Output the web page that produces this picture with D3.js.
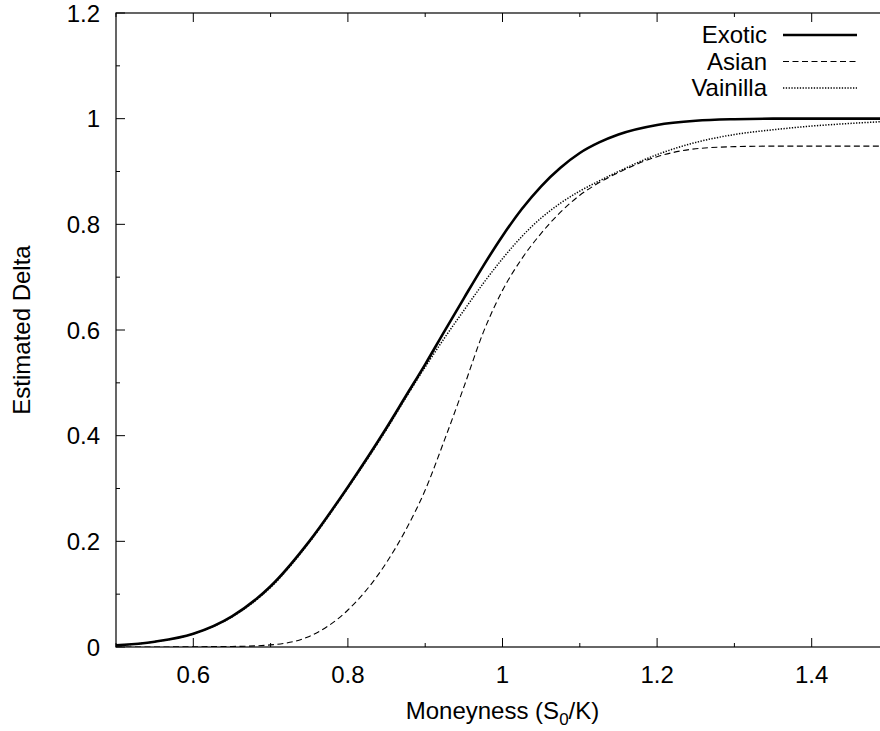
<!DOCTYPE html>
<html>
<head>
<meta charset="utf-8">
<script src="https://cdn.jsdelivr.net/npm/d3@7"></script>
<style>
    body { margin: 0; background: #fff; }
    svg text { font-family: "Liberation Sans", Arial, sans-serif; fill: #000; }
</style>
</head>
<body>
<div id="CHART"></div>
<script>
// moneyness grid (finer in the middle where the curves bend)
const moneyness = [0.50, 0.55, 0.60, 0.65, 0.70, 0.75, 0.80, 0.85, 0.875, 0.90, 0.925, 0.95, 0.975,
                   1.00, 1.025, 1.05, 1.075, 1.10, 1.125, 1.15, 1.20, 1.25, 1.30, 1.35, 1.40, 1.45, 1.50];
const exotic   = [0.003, 0.010, 0.025, 0.058, 0.115, 0.200, 0.303, 0.415, 0.475, 0.535, 0.598, 0.660, 0.721,
                  0.778, 0.829, 0.872, 0.907, 0.935, 0.955, 0.970, 0.988, 0.996, 0.999, 1.000, 1.000, 1.000, 1.000];
const asian    = [0.000, 0.000, 0.0005, 0.001, 0.004, 0.020, 0.070, 0.160, 0.222, 0.297, 0.392, 0.492, 0.595,
                  0.675, 0.735, 0.783, 0.823, 0.855, 0.879, 0.898, 0.928, 0.943, 0.947, 0.948, 0.948, 0.948, 0.948];
const vainilla = [0.003, 0.010, 0.025, 0.057, 0.113, 0.198, 0.301, 0.412, 0.472, 0.530, 0.585, 0.637, 0.688,
                  0.735, 0.777, 0.812, 0.840, 0.863, 0.882, 0.900, 0.932, 0.955, 0.970, 0.979, 0.986, 0.991, 0.995];

const seriesNames = ["Exotic", "Asian", "Vainilla"];
const xMajor = [0.6, 0.8, 1.0, 1.2, 1.4];
const xMinor = [0.5, 0.7, 0.9, 1.1, 1.3, 1.5];
const yMajor = [0, 0.2, 0.4, 0.6, 0.8, 1.0, 1.2];
const yMinor = [0.1, 0.3, 0.5, 0.7, 0.9, 1.1];

const W = 880, H = 731;
const plot = {"x0": 116, "y0": 13, "x1": 889, "y1": 647};

const svg = d3.select("#CHART").append("svg")
    .attr("width", W).attr("height", H);

const x = d3.scaleLinear().domain([0.5, 1.5]).range([plot.x0, plot.x1]);
const y = d3.scaleLinear().domain([0, 1.2]).range([plot.y1, plot.y0]);

const major = 9, minor = 4;
const fz = 24;

// frame
svg.append("rect")
    .attr("x", plot.x0).attr("y", plot.y0)
    .attr("width", plot.x1 - plot.x0).attr("height", plot.y1 - plot.y0)
    .attr("fill", "none").attr("stroke", "#000").attr("stroke-width", 1.2);

// ticks on all four sides (mirrored)
function xTicks(vals, len) {
    vals.forEach(v => {
        svg.append("line").attr("x1", x(v)).attr("x2", x(v))
            .attr("y1", plot.y1).attr("y2", plot.y1 - len)
            .attr("stroke", "#000").attr("stroke-width", 1);
        svg.append("line").attr("x1", x(v)).attr("x2", x(v))
            .attr("y1", plot.y0).attr("y2", plot.y0 + len)
            .attr("stroke", "#000").attr("stroke-width", 1);
    });
}
function yTicks(vals, len) {
    vals.forEach(v => {
        svg.append("line").attr("x1", plot.x0).attr("x2", plot.x0 + len)
            .attr("y1", y(v)).attr("y2", y(v))
            .attr("stroke", "#000").attr("stroke-width", 1);
        svg.append("line").attr("x1", plot.x1).attr("x2", plot.x1 - len)
            .attr("y1", y(v)).attr("y2", y(v))
            .attr("stroke", "#000").attr("stroke-width", 1);
    });
}
xTicks(xMajor, major); xTicks(xMinor, minor);
yTicks(yMajor, major); yTicks(yMinor, minor);

// tick labels
svg.selectAll("text.xt").data(xMajor).enter().append("text")
    .attr("class", "xt")
    .attr("x", d => x(d)).attr("y", 683)
    .attr("text-anchor", "middle")
    .style("font-size", fz + "px")
    .text(d => +d.toFixed(1));

svg.selectAll("text.yt").data(yMajor).enter().append("text")
    .attr("class", "yt")
    .attr("x", 100).attr("y", d => y(d))
    .attr("dy", "0.36em")
    .attr("text-anchor", "end")
    .style("font-size", fz + "px")
    .text(d => +d.toFixed(1));

// axis titles
const xl = svg.append("text")
    .attr("x", (plot.x0 + plot.x1) / 2).attr("y", 719)
    .attr("text-anchor", "middle")
    .style("font-size", fz + "px");
xl.append("tspan").text("Moneyness (S");
xl.append("tspan").attr("dy", 6).style("font-size", "17px").text("0");
xl.append("tspan").attr("dy", -6).text("/K)");

svg.append("text")
    .attr("transform", `translate(30,${(plot.y0 + plot.y1) / 2}) rotate(-90)`)
    .attr("text-anchor", "middle")
    .style("font-size", fz + "px")
    .text("Estimated Delta");

// curves
const styles = [
    {"w": 2.6, "dash": null},
    {"w": 1.1, "dash": "6,3.5"},
    {"w": 1.5, "dash": "1.3,1.5"}
];
const series = [exotic, asian, vainilla];

svg.append("clipPath").attr("id", "clip")
    .append("rect").attr("x", plot.x0).attr("y", plot.y0 - 2)
    .attr("width", plot.x1 - plot.x0).attr("height", plot.y1 - plot.y0 + 2);

const line = d3.line()
    .x((d, i) => x(moneyness[i]))
    .y(d => y(d))
    .curve(d3.curveMonotoneX);

const g = svg.append("g").attr("clip-path", "url(#clip)");
series.forEach((s, k) => {
    g.append("path")
        .attr("d", line(s))
        .attr("fill", "none")
        .attr("stroke", "#000")
        .attr("stroke-width", styles[k].w)
        .attr("stroke-dasharray", styles[k].dash);
});

// legend
const leg = {"tx": 767, "lx0": 783, "lx1": 857, "y0": 35, "dy": 26.5};
seriesNames.forEach((name, k) => {
    let yy = leg.y0 + k * leg.dy;
    svg.append("text")
        .attr("x", leg.tx).attr("y", yy)
        .attr("dy", "0.35em")
        .attr("text-anchor", "end")
        .style("font-size", fz + "px")
        .text(name);
    svg.append("line")
        .attr("x1", leg.lx0).attr("x2", leg.lx1)
        .attr("y1", yy).attr("y2", yy)
        .attr("stroke", "#000")
        .attr("stroke-width", styles[k].w)
        .attr("stroke-dasharray", styles[k].dash);
});
</script>
</body>
</html>
